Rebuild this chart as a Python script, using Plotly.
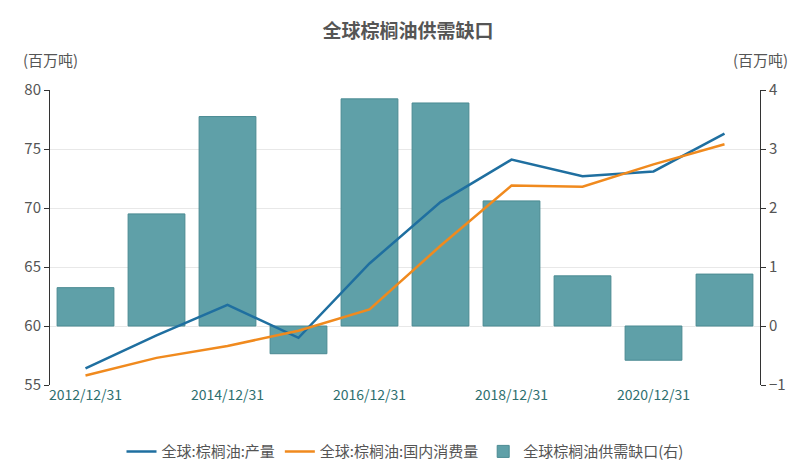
import plotly.graph_objects as go

dates = ["2012/12/31", "2013/12/31", "2014/12/31", "2015/12/31", "2016/12/31",
         "2017/12/31", "2018/12/31", "2019/12/31", "2020/12/31", "2021/12/31"]
production = [56.4, 59.2, 61.8, 59.0, 65.3, 70.5, 74.1, 72.7, 73.1, 76.3]
consumption = [55.8, 57.3, 58.3, 59.6, 61.4, 66.8, 71.9, 71.8, 73.7, 75.4]
gap = [0.65, 1.9, 3.55, -0.47, 3.85, 3.78, 2.12, 0.85, -0.58, 0.88]

font = "Noto Sans CJK SC"
fig = go.Figure()
# bars on base axis (right side), lines on overlaying axis (left side) so lines sit on top
fig.add_trace(go.Bar(x=dates, y=gap, yaxis="y", name="全球棕榈油供需缺口(右)", legendrank=3,
                     marker=dict(color="#5fa0a8", line=dict(color="#4a8a92", width=1))))
fig.add_trace(go.Scatter(x=dates, y=production, mode="lines", name="全球:棕榈油:产量",
                         yaxis="y2", legendrank=1, line=dict(color="#1f6fa0", width=2.5)))
fig.add_trace(go.Scatter(x=dates, y=consumption, mode="lines", name="全球:棕榈油:国内消费量",
                         yaxis="y2", legendrank=2, line=dict(color="#f08a1e", width=2.5)))

fig.update_layout(
    width=800, height=472, plot_bgcolor="white", paper_bgcolor="white",
    font=dict(family=font, size=15, color="#555"),
    margin=dict(l=42, r=48, t=82, b=80),
    title=dict(text="<b>全球棕榈油供需缺口</b>", x=0.5, y=0.965, font=dict(size=19, color="#555")),
    bargap=0.2,
    xaxis=dict(type="category", tickvals=dates[::2], ticktext=dates[::2],
               tickfont=dict(color="#2e6f6f", size=14), showline=False, ticks=""),
    yaxis=dict(range=[-1, 4], dtick=1, side="right", showline=True,
               linecolor="#333", ticks="outside", ticklen=5, tickcolor="#333",
               showgrid=False, zeroline=False),
    yaxis2=dict(range=[55, 80], dtick=5, overlaying="y", side="left", showline=True,
                linecolor="#333", ticks="outside", ticklen=5, tickcolor="#333",
                showgrid=True, gridcolor="#e8e8e8", zeroline=False),
    legend=dict(orientation="h", x=0.5, xanchor="center", y=-0.17, yanchor="top",
                font=dict(size=15)),
    annotations=[
        dict(text="(百万吨)", x=0, xref="paper", xanchor="center", y=1.06, yref="paper",
             yanchor="bottom", showarrow=False),
        dict(text="(百万吨)", x=1.0, xref="paper", xanchor="center", y=1.06, yref="paper",
             yanchor="bottom", showarrow=False),
    ],
)
fig.write_html("out.html")
